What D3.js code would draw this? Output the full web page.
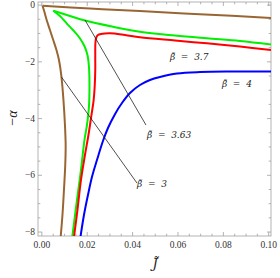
<!DOCTYPE html>
<html>
<head>
<meta charset="utf-8">
<script src="https://d3js.org/d3.v7.min.js"></script>
<style>
    body { margin: 0; background: #ffffff; }
    svg { display: block; }
    text { font-family: "Liberation Serif", "DejaVu Serif", serif; }
</style>
</head>
<body>
<div id="chart"></div>
<script>
// Curve data: [J, -alpha]
const brownUpper = [[0.0003, -0.02], [0.0212, -0.12], [0.0432, -0.21], [0.0719, -0.33], [0.1010, -0.45]];
const brownLower = [[0.0003, -0.02], [0.00115, -0.243], [0.00212, -0.525], [0.00357, -0.878], [0.00502, -1.231],
    [0.00644, -1.583], [0.00754, -1.936], [0.00865, -2.535], [0.00952, -3.346], [0.01018, -4.228],
    [0.01049, -4.933], [0.01031, -5.638], [0.00974, -6.519], [0.00908, -7.401], [0.00829, -8.177]];

const greenUpper = [[0.00502, -0.197], [0.01239, -0.384], [0.019, -0.543], [0.03134, -0.762], [0.04324, -0.938],
    [0.05867, -1.072], [0.07277, -1.171], [0.08732, -1.266], [0.1010, -1.389]];
const greenLower = [[0.00502, -0.197], [0.00798, -0.384], [0.01093, -0.642], [0.01371, -0.878], [0.01660, -1.150],
    [0.01880, -1.450], [0.02010, -1.760], [0.02076, -2.172], [0.02098, -2.757], [0.02076, -3.582],
    [0.01988, -4.228], [0.01878, -4.757], [0.01723, -5.815], [0.01547, -6.873], [0.0134, -8.177]];

const redCurve = [[0.1010, -1.583], [0.08732, -1.46], [0.07277, -1.347], [0.05867, -1.248], [0.04324, -1.135],
    [0.03663, -1.054], [0.03002, -0.994], [0.02605, -1.019], [0.02473, -1.054], [0.02407, -1.125],
    [0.02363, -1.301], [0.02354, -1.760], [0.02354, -2.288], [0.02332, -2.817], [0.02283, -3.346],
    [0.02186, -3.875], [0.02054, -4.580], [0.019, -5.285], [0.01723, -6.167], [0.01569, -7.225], [0.01415, -8.177]];

const blueCurve = [[0.01701, -8.177], [0.01856, -7.401], [0.02032, -6.696], [0.02208, -6.061], [0.02429, -5.462],
    [0.02693, -4.792], [0.02914, -4.333], [0.03222, -3.844], [0.03531, -3.452], [0.03884, -3.099],
    [0.04324, -2.817], [0.04765, -2.641], [0.05206, -2.535], [0.05955, -2.412], [0.06969, -2.359],
    [0.08291, -2.341], [0.1010, -2.341]];

const curves = [
    { pts: brownUpper, color: '#996633' },
    { pts: brownLower, color: '#996633' },
    { pts: greenUpper, color: '#00f000' },
    { pts: greenLower, color: '#00f000' },
    { pts: redCurve, color: '#ff0000' },
    { pts: blueCurve, color: '#0000ff' }
];

// Pointer lines and labels
const pointers = [
    [[0.019, -0.525], [0.04589, -4.228]],
    [[0.00865, -2.535], [0.04192, -6.273]]
];
const labels = [
    { text: '3.7', at: [0.05646, -1.936] },
    { text: '4', at: [0.07938, -2.888] },
    { text: '3.63', at: [0.04633, -4.686] },
    { text: '3', at: [0.04192, -6.414] }
];

const xTicks = [0, 0.02, 0.04, 0.06, 0.08, 0.10];
const yTicks = [0, -2, -4, -6, -8];
const xMinor = d3.range(0, 0.1001, 0.005);
const yMinor = d3.range(0, -8.01, -0.5);

const width = 280, height = 278;
const padL = 38, padR = 271, padT = 2, padB = 236;

const x = d3.scaleLinear().domain([-0.0017, 0.1010]).range([padL, padR]);
const y = d3.scaleLinear().domain([0.11, -8.14]).range([padT, padB]);

const svg = d3.select('#chart').append('svg')
    .attr('width', width)
    .attr('height', height);

svg.append('defs').append('clipPath').attr('id', 'clip')
    .append('rect')
    .attr('x', padL).attr('y', padT)
    .attr('width', padR - padL).attr('height', padB - padT);

const frameColor = '#a0a0a0';

// ticks on all four sides
const tickG = svg.append('g').attr('stroke', frameColor).attr('stroke-width', 0.8);
xMinor.forEach(v => {
    const major = xTicks.some(t => Math.abs(t - v) < 1e-9);
    const len = major ? 4 : 2.3;
    tickG.append('line').attr('x1', x(v)).attr('x2', x(v)).attr('y1', padB).attr('y2', padB - len);
    tickG.append('line').attr('x1', x(v)).attr('x2', x(v)).attr('y1', padT).attr('y2', padT + len);
});
yMinor.forEach(v => {
    const major = yTicks.some(t => Math.abs(t - v) < 1e-9);
    const len = major ? 4 : 2.3;
    tickG.append('line').attr('y1', y(v)).attr('y2', y(v)).attr('x1', padL).attr('x2', padL + len);
    tickG.append('line').attr('y1', y(v)).attr('y2', y(v)).attr('x1', padR).attr('x2', padR - len);
});

svg.append('rect')
    .attr('x', padL).attr('y', padT)
    .attr('width', padR - padL).attr('height', padB - padT)
    .attr('fill', 'none')
    .attr('stroke', frameColor)
    .attr('stroke-width', 0.8);

// tick labels
svg.append('g').selectAll('text')
    .data(xTicks)
    .enter().append('text')
    .attr('x', d => x(d))
    .attr('y', padB + 12)
    .attr('text-anchor', 'middle')
    .style('font-size', '9.5px')
    .style('fill', '#333')
    .text(d => d.toFixed(2));

svg.append('g').selectAll('text')
    .data(yTicks)
    .enter().append('text')
    .attr('x', padL - 3)
    .attr('y', d => y(d))
    .attr('dy', '0.33em')
    .attr('text-anchor', 'end')
    .style('font-size', '9.5px')
    .style('fill', '#333')
    .text(d => d === 0 ? '0' : '\u2212' + Math.abs(d));

// curves
const line = d3.line()
    .x(d => x(d[0]))
    .y(d => y(d[1]))
    .curve(d3.curveCatmullRom.alpha(0.5));

const plot = svg.append('g').attr('clip-path', 'url(#clip)');

plot.selectAll('path.curve')
    .data(curves)
    .enter().append('path')
    .attr('class', 'curve')
    .attr('d', d => line(d.pts))
    .attr('fill', 'none')
    .attr('stroke', d => d.color)
    .attr('stroke-width', 2)
    .attr('stroke-linejoin', 'round');

plot.selectAll('line.pointer')
    .data(pointers)
    .enter().append('line')
    .attr('class', 'pointer')
    .attr('x1', d => x(d[0][0])).attr('y1', d => y(d[0][1]))
    .attr('x2', d => x(d[1][0])).attr('y2', d => y(d[1][1]))
    .attr('stroke', '#222')
    .attr('stroke-width', 0.8);

// curve labels, beta with a combining tilde
svg.append('g').selectAll('text')
    .data(labels)
    .enter().append('text')
    .attr('x', d => x(d.at[0]))
    .attr('y', d => y(d.at[1]))
    .style('font-family', '"DejaVu Serif", serif')
    .style('font-size', '9px')
    .style('font-style', 'italic')
    .style('fill', '#222')
    .style('white-space', 'pre')
    .text(d => '\u03B2\u0303  =  ' + d.text);

// axis titles
svg.append('text')
    .attr('transform', 'translate(17,118) rotate(-90)')
    .attr('text-anchor', 'middle')
    .style('font-size', '14px')
    .style('fill', '#222')
    .html('\u2212<tspan font-style="italic">\u03B1</tspan>');

svg.append('text')
    .attr('x', 155)
    .attr('y', 268)
    .attr('text-anchor', 'middle')
    .style('font-family', '"DejaVu Serif", serif')
    .style('font-size', '13px')
    .style('font-style', 'italic')
    .style('fill', '#222')
    .text('J\u0303');
</script>
</body>
</html>
